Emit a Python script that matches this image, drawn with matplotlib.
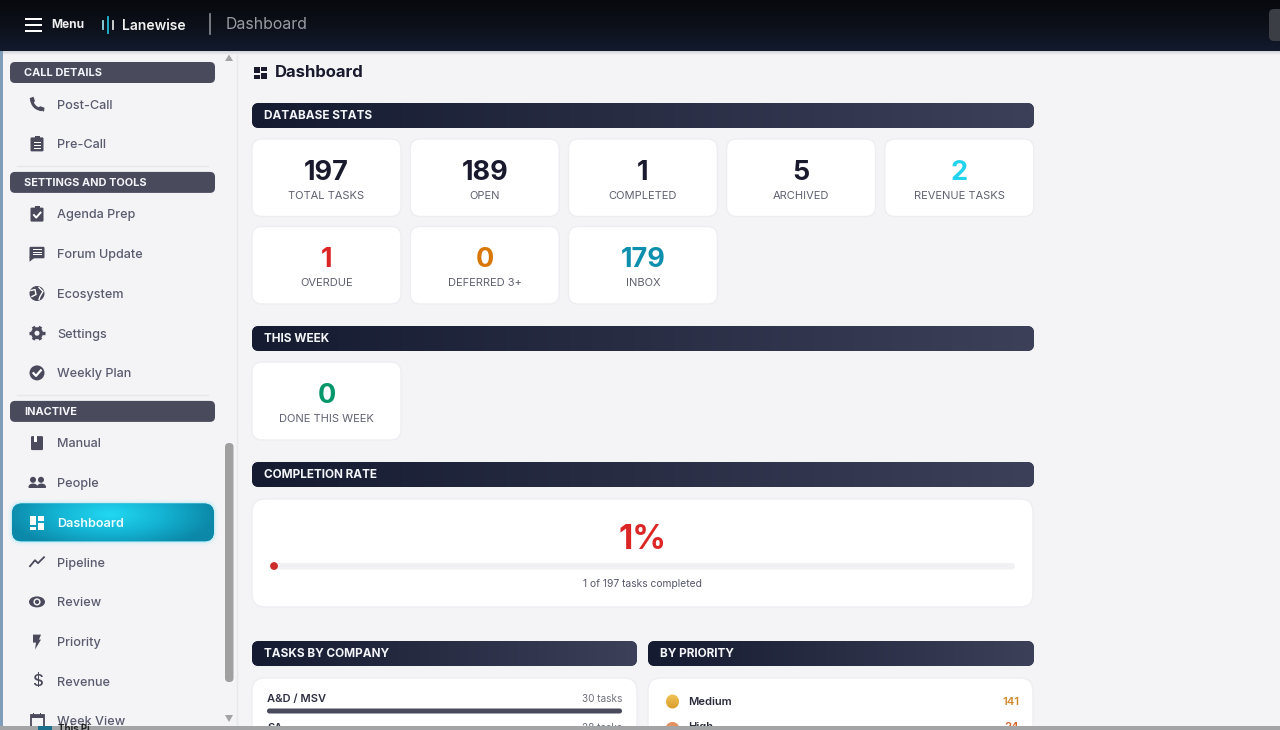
import matplotlib
matplotlib.use("Agg")
import matplotlib.pyplot as plt
import numpy as np
from matplotlib.colors import LinearSegmentedColormap
from matplotlib.patches import FancyBboxPatch, Rectangle, Circle, Ellipse, Polygon, PathPatch
from matplotlib.path import Path

plt.rcParams['font.family'] = ['Inter', 'DejaVu Sans']

# sidebar content
sections = ['CALL DETAILS', 'SETTINGS AND TOOLS', 'INACTIVE']
section_items = [
    ['Post-Call', 'Pre-Call'],
    ['Agenda Prep', 'Forum Update', 'Ecosystem', 'Settings', 'Weekly Plan'],
    ['Manual', 'People', 'Dashboard', 'Pipeline', 'Review', 'Priority', 'Revenue', 'Week View'],
]

# stat cards
db_values = ['197', '189', '1', '5', '2', '1', '0', '179']
db_labels = ['TOTAL TASKS', 'OPEN', 'COMPLETED', 'ARCHIVED', 'REVENUE TASKS', 'OVERDUE', 'DEFERRED 3+', 'INBOX']
db_colors = ['#1a1a2e', '#1a1a2e', '#1a1a2e', '#1a1a2e', '#22d3ee', '#dc2626', '#d97706', '#0e8fae']

done_value = '0'
done_label = 'DONE THIS WEEK'
completion_pct = 1
completed = 1
total_tasks = 197

company_names = ['A&D / MSV']
company_counts = [30]
priority_names = ['Medium']
priority_counts = [141]

fig = plt.figure(figsize=(12.8, 7.3), dpi=100)
ax = fig.add_axes([0, 0, 1, 1])
ax.set_axis_off()
BG = '#f4f4f7'
fig.patch.set_facecolor(BG)


def rbox(x0, y0, x1, y1, r, **kw):
    p = FancyBboxPatch((x0 + r, y0 + r), x1 - x0 - 2 * r, y1 - y0 - 2 * r,
                       boxstyle='round,pad=%f,rounding_size=%f' % (r, r), **kw)
    ax.add_patch(p)
    return p


def gradient(x0, y0, x1, y1, colors, clip=None, vertical=False, z=2):
    cm = LinearSegmentedColormap.from_list('g', colors)
    g = np.linspace(0, 1, 256).reshape(1, -1)
    if vertical:
        g = g.T
    im = ax.imshow(g, extent=(x0, x1, y1, y0), cmap=cm, aspect='auto', zorder=z, origin='upper')
    if clip is not None:
        im.set_clip_path(clip)
    return im


def label(x, y, s, size, color, weight='normal', ha='left', z=6, **kw):
    # Inter sits a little high with va=center, push it back down
    ax.text(x, y + 0.15 * size, s, fontsize=size, color=color, fontweight=weight, ha=ha, va='center', zorder=z, **kw)


def card(x0, y0, x1, y1, r=10):
    rbox(x0, y0, x1, y1, r, fc='white', ec='#eeeef2', lw=1, zorder=2)


def section_bar(x0, y0, x1, y1, text):
    clip = rbox(x0, y0, x1, y1, 7, fc='#1a1f35', ec='none', zorder=2)
    gradient(x0, y0, x1, y1, ['#151b30', '#3c4059'], clip=clip, z=3)
    label(x0 + 12, (y0 + y1) / 2 - 1, text, 8.5, '#f4f5f8', 'bold')


# icons, drawn around (cx, cy)
def icon(name, cx, cy, c='#4a4a5c'):
    z = 6
    def rect(x, y, w, h, col=c):
        ax.add_patch(Rectangle((cx + x, cy + y), w, h, fc=col, ec='none', zorder=z))
    if name == 'Post-Call':
        verts = [(cx - 5.5, cy - 5.5), (cx - 5, cy + 1), (cx - 1, cy + 5), (cx + 5.5, cy + 5.5)]
        ax.add_patch(PathPatch(Path(verts, [1, 4, 4, 4]), fc='none', ec=c, lw=2.2, zorder=z))
        ax.add_patch(Polygon([(cx - 7.5, cy - 6), (cx - 3.5, cy - 7.5), (cx - 2, cy - 3), (cx - 4.5, cy - 1)], fc=c, ec='none', zorder=z))
        ax.add_patch(Polygon([(cx + 1, cy + 4), (cx + 3, cy + 2), (cx + 7.5, cy + 3.5), (cx + 7, cy + 7.5)], fc=c, ec='none', zorder=z))
    elif name in ('Pre-Call', 'Agenda Prep'):
        rbox(cx - 6.5, cy - 6.5, cx + 6.5, cy + 7.5, 1.2, fc=c, ec='none', zorder=z)
        rect(-2.5, -8, 5, 3)
        if name == 'Pre-Call':
            for dy in (-2, 1, 4):
                rect(-3.5, dy, 7, 1.2, 'white')
        else:
            ax.plot([cx - 3, cx - 0.8, cx + 3.5], [cy + 1, cy + 3.5, cy - 1.5], color='white', lw=1.4, zorder=z + 1)
    elif name == 'Forum Update':
        rbox(cx - 7.5, cy - 7, cx + 7.5, cy + 4.5, 1.2, fc=c, ec='none', zorder=z)
        ax.add_patch(Polygon([(cx - 7.5, cy + 3), (cx - 7.5, cy + 8), (cx - 2.5, cy + 4)], fc=c, ec='none', zorder=z))
        for dy in (-4.5, -2, 0.5):
            rect(-4.5, dy, 9, 1.1, 'white')
    elif name == 'Ecosystem':
        ax.add_patch(Circle((cx, cy), 7.5, fc=c, ec='none', zorder=z))
        ax.plot([cx - 6, cx - 2, cx - 1, cx - 5], [cy - 3, cy - 4, cy + 1, cy + 3], color='white', lw=1, zorder=z + 1)
        ax.plot([cx + 2, cx + 6, cx + 3, cx + 2], [cy - 6, cy - 2, cy + 3, cy + 6], color='white', lw=1, zorder=z + 1)
    elif name == 'Settings':
        ax.add_patch(Circle((cx, cy), 6, fc=c, ec='none', zorder=z))
        for ang in np.deg2rad([0, 60, 120, 180, 240, 300]):
            ax.plot([cx + 5 * np.cos(ang), cx + 7.6 * np.cos(ang)], [cy + 5 * np.sin(ang), cy + 7.6 * np.sin(ang)],
                    color=c, lw=2.4, solid_capstyle='butt', zorder=z)
        ax.add_patch(Circle((cx, cy), 2.5, fc=BG, ec='none', zorder=z + 1))
    elif name == 'Weekly Plan':
        ax.add_patch(Circle((cx, cy), 7.5, fc=c, ec='none', zorder=z))
        ax.plot([cx - 3.5, cx - 1, cx + 3.8], [cy + 0.3, cy + 3, cy - 2.5], color='white', lw=1.6, zorder=z + 1)
    elif name == 'Manual':
        rbox(cx - 6, cy - 7, cx + 6, cy + 7, 1.2, fc=c, ec='none', zorder=z)
        rect(-3, -7, 3, 6, 'white')
    elif name == 'People':
        for dx in (-4, 4):
            ax.add_patch(Circle((cx + dx, cy - 3), 3, fc=c, ec='none', zorder=z))
        ax.add_patch(Ellipse((cx - 4, cy + 4), 9, 6.5, fc=c, ec='none', zorder=z))
        ax.add_patch(Ellipse((cx + 4.5, cy + 4), 9, 6.5, fc=c, ec='none', zorder=z))
        rect(-9, 5, 18, 3, BG)
    elif name == 'Dashboard':
        for x, y, w, h in [(-7, -7, 6, 9), (1, -7, 6, 5), (1, 0, 6, 7), (-7, 4, 6, 3)]:
            rect(x, y, w, h, c)
    elif name == 'Pipeline':
        ax.plot([cx - 7, cx - 2, cx + 1, cx + 7], [cy + 4, cy - 2, cy + 1, cy - 5], color=c, lw=1.3, zorder=z)
    elif name == 'Review':
        ax.add_patch(Ellipse((cx, cy), 16, 11, fc=c, ec='none', zorder=z))
        ax.add_patch(Circle((cx, cy), 3.6, fc=BG, ec='none', zorder=z + 1))
        ax.add_patch(Circle((cx, cy), 2.1, fc=c, ec='none', zorder=z + 2))
    elif name == 'Priority':
        ax.add_patch(Polygon([(cx - 4, cy - 7), (cx + 4, cy - 7), (cx + 2, cy - 2), (cx + 4, cy - 2),
                              (cx - 2, cy + 8), (cx - 1, cy + 1), (cx - 4, cy + 1)], fc=c, ec='none', zorder=z))
    elif name == 'Revenue':
        label(cx, cy - 2, '$', 12, c, 'medium', ha='center')
    elif name == 'Week View':
        ax.add_patch(Rectangle((cx - 6.5, cy - 6), 13, 14, fc='none', ec=c, lw=1.3, zorder=z))
        rect(-6.5, -6, 13, 2.5)
        rect(-4.5, -8.5, 1.4, 3)
        rect(3, -8.5, 1.4, 3)


# top bar
gradient(0, 0, 1280, 51, ['#08090d', '#0c1019', '#121a2d'], vertical=True, z=8)
gradient(0, 51, 1280, 55, ['#d2d3d6', '#f1f2f5'], vertical=True, z=8)
for yy in (19, 25, 31):
    ax.add_patch(Rectangle((25, yy - 0.8), 16.5, 1.7, fc='white', ec='none', zorder=9))
label(51, 24, 'Menu', 8.6, '#eeeeee', 'bold', z=9)
for xx, h, col in [(102.5, 4, '#8fd9e6'), (107.5, 8, '#22b8d6'), (113, 4, '#dddddd')]:
    ax.plot([xx, xx], [25 - h, 25 + h], color=col, lw=1.3, zorder=9)
label(122, 25, 'Lanewise', 10, '#f0f0f0', 'semibold', z=9)
ax.plot([210, 210], [14, 34], color='#8a8d94', lw=1.2, zorder=9)
label(226, 23, 'Dashboard', 11.4, '#9a9ca3', z=9)
rbox(1269, 9, 1300, 41, 5, fc='#3c3e46', ec='none', zorder=9)

# sidebar
ax.plot([237, 237], [51, 726], color='#e7e8ec', lw=1, zorder=1)
y = 72.5
for sec_i, sec in enumerate(sections):
    rbox(10, y - 10.5, 215, y + 10.5, 5, fc='#4a4a5d', ec='none', zorder=3)
    label(24, y - 1, sec, 7.9, '#f4f5f8', 'bold')
    y += 31.7
    for it in section_items[sec_i]:
        if it == 'Dashboard':
            for pad, a in [(4, 0.04), (2, 0.08), (1, 0.12)]:
                rbox(12 - pad, y - 19 - pad, 214 + pad, y + 19 + pad, 10 + pad, fc='#22d3ee', ec='none', alpha=a, zorder=3)
            clip = rbox(12, y - 19, 214, y + 19, 10, fc='#19a8c8', ec='none', zorder=3)
            xx, yy = np.meshgrid(np.linspace(12, 214, 200), np.linspace(y - 19, y + 19, 40))
            d = np.sqrt(((xx - 110) / 105) ** 2 + ((yy - y + 8) / 38) ** 2)
            cm = LinearSegmentedColormap.from_list('glow', ['#22d8f2', '#14b4d4', '#0c88a8'])
            im = ax.imshow(d, extent=(12, 214, y + 19, y - 19), cmap=cm, vmin=0, vmax=1, aspect='auto', zorder=4)
            im.set_clip_path(clip)
            icon(it, 37, y, 'white')
            label(57, y, it, 9.1, '#eafcff', 'semibold')
        else:
            icon(it, 37, y)
            label(57, y, it, 9.1, '#5a5b6e', 'medium')
        y += 39.7
    if sec_i < 2:
        ax.plot([17, 208], [y - 17.5, y - 17.5], color='#e6e7eb', lw=1, zorder=2)
    y -= 1.2

# scrollbar
ax.add_patch(Polygon([(225, 61), (233, 61), (229, 54.5)], fc='#a3a3a3', ec='none', zorder=9))
ax.add_patch(Polygon([(225, 715), (233, 715), (229, 722)], fc='#a3a3a3', ec='none', zorder=5))
rbox(225, 443, 233.5, 682, 4, fc='#a0a0a0', ec='none', zorder=5)

# page title
for x, yy, w, h in [(254, 67, 5.5, 6), (261, 67, 5.5, 4), (254, 74.5, 5.5, 4), (261, 72.5, 5.5, 6)]:
    ax.add_patch(Rectangle((x, yy), w, h, fc='#1a1a2e', ec='none', zorder=5))
label(275, 71, 'Dashboard', 12, '#1a1a2e', 'bold')

# database stats
section_bar(252, 103, 1034, 128, 'DATABASE STATS')
card_x = 252
card_w = 149
card_gap = 158.2
for i in range(len(db_values)):
    col = i % 5
    row = i // 5
    x0 = card_x + col * card_gap
    y0 = 139 + row * 87.5
    card(x0, y0, x0 + card_w, y0 + 77.5)
    xc = x0 + card_w / 2
    label(xc, y0 + 31, db_values[i], 19.5, db_colors[i], 'bold', ha='center')
    label(xc, y0 + 55.5, db_labels[i], 8, '#5f6070', ha='center')

# this week
section_bar(252, 326, 1034, 351, 'THIS WEEK')
card(252, 362, 401, 440)
label(326.5, 393, done_value, 19.5, '#059669', 'bold', ha='center')
label(326.5, 418, done_label, 8, '#5f6070', ha='center')

# completion rate
section_bar(252, 462, 1034, 487, 'COMPLETION RATE')
card(252, 499, 1033, 607, r=13)
label(642, 536.5, '%d%%' % completion_pct, 24, '#dc2626', 'bold', ha='center')
rbox(270, 563, 1015, 569.5, 3, fc='#f1f1f3', ec='none', zorder=3)
bar_w = 745 * completion_pct / 100
ax.add_patch(Circle((270 + bar_w / 2 + 0.3, 566), 3.9, fc='#cf2a2a', ec='none', zorder=4))
label(642, 582.5, '%d of %d tasks completed' % (completed, total_tasks), 7.4, '#55566a', ha='center')

# tasks by company / by priority, cut off by the window bottom
section_bar(252, 641, 637, 666, 'TASKS BY COMPANY')
section_bar(648, 641, 1034, 666, 'BY PRIORITY')
card(252, 678, 637, 745, r=13)
card(648, 678, 1033, 745, r=13)
label(267, 698, company_names[0], 8, '#2f3042', 'semibold')
label(622, 697.5, '%d tasks' % company_counts[0], 7.2, '#6e6f7c', ha='right')
rbox(267, 708.5, 622, 713.5, 2.4, fc='#4a4a5d', ec='none', zorder=4)
ax.text(267, 723, 'SA', fontsize=8, color='#2f3042', fontweight='semibold', va='top', zorder=4)
ax.text(622, 723, '28 tasks', fontsize=7.2, color='#6e6f7c', ha='right', va='top', zorder=4)

clip = Ellipse((672.5, 701.5), 13, 14, transform=ax.transData)
gradient(666, 694, 679, 709, ['#f2c45a', '#d99a2a'], clip=clip, vertical=True, z=4)
label(688, 700.5, priority_names[0], 8, '#2a2b3c', 'semibold')
label(1019, 700.5, str(priority_counts[0]), 8.2, '#d08a2e', 'semibold', ha='right')
ax.add_patch(Circle((672.5, 729), 7, fc='#e39160', ec='none', zorder=4))
ax.text(688, 722, 'High', fontsize=8, color='#2a2b3c', fontweight='semibold', va='top', zorder=4)
ax.text(1019, 722, '24', fontsize=8.2, color='#d9642e', fontweight='semibold', ha='right', va='top', zorder=4)

# window edges
ax.add_patch(Rectangle((0, 51), 3, 680, fc='#7f9db8', ec='none', zorder=10))
ax.add_patch(Rectangle((0, 725.5), 1280, 5, fc='#a3a4a6', ec='none', zorder=10))
ax.add_patch(Rectangle((38, 725.5), 14, 5, fc='#1b6f8a', ec='none', zorder=11))
ax.text(58, 724, 'This Pi', fontsize=7, color='#222222', fontweight='bold', va='top', zorder=11, clip_on=True)

ax.set_xlim(0, 1280)
ax.set_ylim(730, 0)
fig.savefig('out.png', dpi=100, facecolor=BG)
